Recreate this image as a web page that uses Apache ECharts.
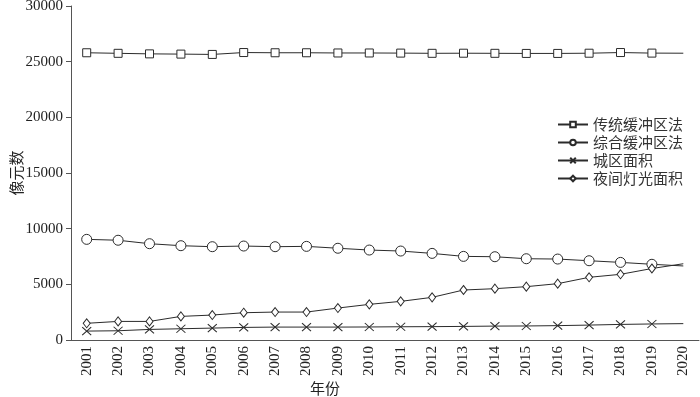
<!DOCTYPE html>
<html>
<head>
<meta charset="utf-8">
<script src="https://cdn.jsdelivr.net/npm/echarts@6/dist/echarts.min.js"></script>
<style>
  html, body { margin: 0; padding: 0; background: #fff; }
  #chart { width: 700px; height: 397px; }
</style>
</head>
<body>
<div id="chart"></div>
<script>
const years = ['2001', '2002', '2003', '2004', '2005', '2006', '2007', '2008', '2009', '2010',
  '2011', '2012', '2013', '2014', '2015', '2016', '2017', '2018', '2019', '2020'];
const traditional = [25800, 25750, 25700, 25680, 25650, 25820, 25800, 25800, 25780, 25780,
  25770, 25750, 25760, 25750, 25740, 25740, 25760, 25820, 25770, 25760];
const integrated = [9040, 8960, 8650, 8470, 8380, 8440, 8380, 8410, 8240, 8080,
  7990, 7780, 7510, 7480, 7300, 7270, 7120, 6970, 6800, 6650];
const urbanArea = [800, 830, 950, 1010, 1070, 1130, 1160, 1160, 1160, 1170,
  1190, 1200, 1220, 1250, 1260, 1290, 1340, 1400, 1440, 1470];
const nightLight = [1500, 1670, 1670, 2120, 2240, 2450, 2510, 2510, 2870, 3200,
  3470, 3830, 4490, 4610, 4790, 5060, 5630, 5900, 6420, 6850];

const serif = '"Liberation Serif", "Noto Sans CJK SC", serif';
const cjk = '"Noto Sans CJK SC", "Liberation Serif", sans-serif';
const ink = '#2b2b2b';
const crossPath = 'path://M0,0L10,10M10,0L0,10';

// 2020 只画折线，不画标记
const withLastBare = (arr) => arr.map((v, i) => (i === arr.length - 1 ? { value: v, symbol: 'none' } : v));

const makeSeries = (name, data, symbol, size, fill) => ({
  name,
  type: 'line',
  data: withLastBare(data),
  symbol,
  symbolSize: size,
  showAllSymbol: true,
  lineStyle: { color: ink, width: 1 },
  itemStyle: { color: fill, borderColor: ink, borderWidth: 1 },
  emphasis: { disabled: true },
});

const myChart = echarts.init(document.getElementById('chart'), null, { renderer: 'canvas' });

myChart.setOption({
  animation: false,
  backgroundColor: '#fff',
  grid: { left: 71, right: 1, top: 6, bottom: 57, containLabel: false, outerBoundsMode: 'none' },
  legend: {
    orient: 'vertical',
    left: 552,
    top: 112,
    itemWidth: 30,
    itemHeight: 7,
    itemGap: 3,
    textStyle: { fontFamily: cjk, fontSize: 15, color: '#333' },
    data: ['传统缓冲区法', '综合缓冲区法', '城区面积', '夜间灯光面积'],
  },
  xAxis: {
    type: 'category',
    data: years,
    boundaryGap: true,
    name: '年份',
    nameLocation: 'middle',
    nameGap: 41,
    nameMoveOverlap: false,
    nameTextStyle: { fontFamily: cjk, fontSize: 15, color: '#222', padding: [0, 120, 0, 0] },
    axisLine: { lineStyle: { color: '#555', width: 1 } },
    axisTick: { alignWithLabel: true, length: 4, lineStyle: { color: '#555' } },
    axisLabel: { rotate: 90, interval: 0, margin: 6, fontFamily: serif, fontSize: 15, color: '#222' },
    splitLine: { show: false },
  },
  yAxis: {
    type: 'value',
    min: 0,
    max: 30000,
    interval: 5000,
    name: '像元数',
    nameLocation: 'middle',
    nameGap: 47,
    nameMoveOverlap: false,
    nameTextStyle: { fontFamily: cjk, fontSize: 15, color: '#222' },
    axisLine: { show: true, lineStyle: { color: '#555', width: 1 } },
    axisTick: { show: true, length: 5, lineStyle: { color: '#555' } },
    axisLabel: { margin: 8, fontFamily: serif, fontSize: 15, color: '#222', formatter: (v) => String(v) },
    splitLine: { show: false },
  },
  series: [
    makeSeries('传统缓冲区法', traditional, 'rect', 8, '#fff'),
    makeSeries('综合缓冲区法', integrated, 'circle', 10, '#fff'),
    makeSeries('城区面积', urbanArea, crossPath, [9, 8], 'none'),
    makeSeries('夜间灯光面积', nightLight, 'diamond', [7, 9], '#fff'),
  ],
});
</script>
</body>
</html>
